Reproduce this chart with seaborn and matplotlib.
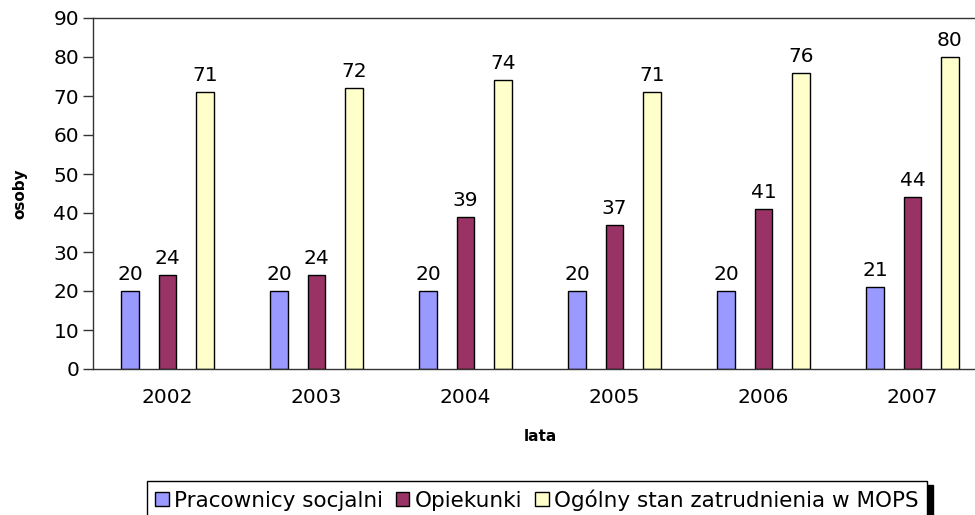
import pandas as pd
import seaborn as sns
import matplotlib.pyplot as plt

years = ['2002', '2003', '2004', '2005', '2006', '2007']
pracownicy = [20, 20, 20, 20, 20, 21]
opiekunki = [24, 24, 39, 37, 41, 44]
ogolny = [71, 72, 74, 71, 76, 80]
series = ['Pracownicy socjalni', 'Opiekunki', 'Ogólny stan zatrudnienia w MOPS']
colors = ['#9999FF', '#993366', '#FFFFCC']

df = pd.DataFrame({
    'rok': years * 3,
    'osoby': pracownicy + opiekunki + ogolny,
    'seria': [s for s in series for _ in years],
})

sns.set_style('white')
plt.rcParams['font.family'] = ['DejaVu Sans']
plt.rcParams['text.color'] = 'black'
plt.rcParams['axes.labelcolor'] = 'black'
plt.rcParams['xtick.color'] = 'black'
plt.rcParams['ytick.color'] = 'black'

fs = 14.5

fig = plt.figure(figsize=(9.75, 5.15), dpi=100)
ax = fig.add_axes([93 / 975, 146 / 515, 894 / 975, 351 / 515])

sns.barplot(data=df, x='rok', y='osoby', hue='seria', palette=colors,
            width=0.75, gap=0.52, edgecolor='black', linewidth=1,
            saturation=1, ax=ax, legend=False)

for cont in ax.containers:
    ax.bar_label(cont, fmt='%d', padding=5, fontsize=fs)

ax.set_ylim(0, 90)
ax.set_xlim(-0.5, 5.5)
ax.set_yticks(range(0, 91, 10))
ax.tick_params(axis='y', left=True, length=7, width=1, color='#333333', labelsize=fs, pad=3)
ax.tick_params(axis='x', bottom=False, labelsize=fs, pad=10)
for side in ['left', 'bottom', 'top']:
    ax.spines[side].set_visible(True)
    ax.spines[side].set_color('#333333')
    ax.spines[side].set_linewidth(1)
ax.spines['right'].set_visible(False)

ax.set_xlabel('lata', fontsize=11, fontweight='bold', labelpad=16)
ax.set_ylabel('osoby', fontsize=11, fontweight='bold', labelpad=19)

handles = [plt.Rectangle((0, 0), 1, 1, facecolor=c, edgecolor='black', linewidth=1) for c in colors]
leg = fig.legend(handles, series, loc='center', bbox_to_anchor=(537 / 975, 15 / 515),
                 ncol=3, fontsize=15.5, frameon=True, fancybox=False,
                 shadow={'facecolor': 'black', 'edgecolor': 'black', 'alpha': 1, 'ox': 4, 'oy': -3},
                 handlelength=0.62, handleheight=0.62, handletextpad=0.25,
                 columnspacing=0.6, borderpad=0.4, edgecolor='black')
leg.get_frame().set_linewidth(1)

fig.savefig('out.png', dpi=100)
